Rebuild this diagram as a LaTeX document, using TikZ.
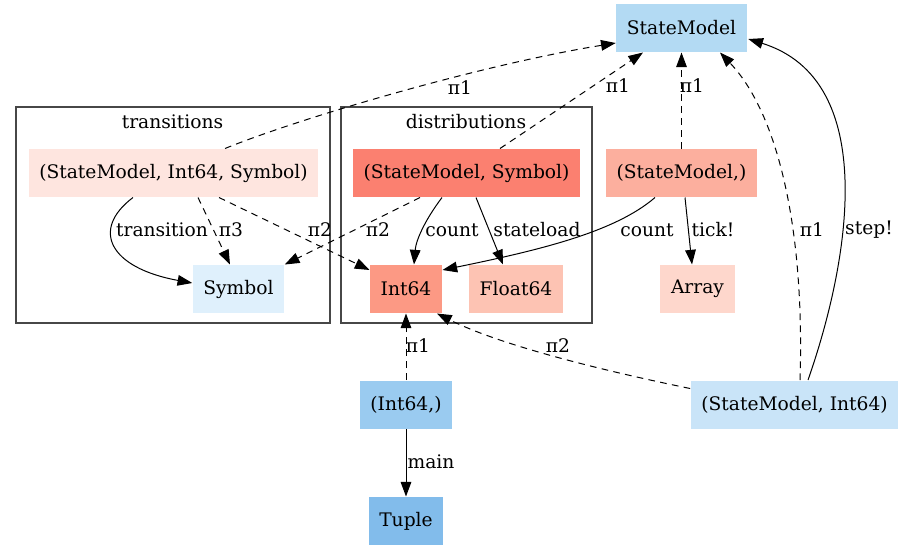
\documentclass[tikz,border=0pt]{standalone}
\usepackage{fontspec}
\setmainfont{DejaVu Serif}
\usetikzlibrary{arrows.meta, calc}
\definecolor{cSM}{HTML}{B3DAF3}
\definecolor{cTr}{HTML}{FEE5DF}
\definecolor{cSym}{HTML}{DFF0FC}
\definecolor{cDs}{HTML}{FB8070}
\definecolor{cInt}{HTML}{FC9984}
\definecolor{cFlt}{HTML}{FDC3B3}
\definecolor{cSMt}{HTML}{FCAF9E}
\definecolor{cArr}{HTML}{FED7CC}
\definecolor{cIntt}{HTML}{9ACBF0}
\definecolor{cTup}{HTML}{82BCEB}
\definecolor{cSMI}{HTML}{C9E4F8}
\tikzset{
    box/.style = {fill=#1, inner xsep=8pt, minimum height=36pt},
    lbl/.style = {inner sep=1pt},
    grp/.style = {draw=black!72, line width=0.9pt},
    dsh/.style = {dash pattern=on 5pt off 4pt},
    >={Triangle[length=11pt, width=8pt]}
}

\begin{document}
\begin{tikzpicture}[x=0.75pt, y=-0.75pt, line width=0.75pt, font=\fontsize{14}{17}\selectfont]
        \useasboundingbox (0,0) rectangle (905,551);
        \path[draw, grp] (16,107) rectangle (330,323);
        \path[draw, grp] (341,107) rectangle (592,323);
        \node (trlab) at (172.5,122) {transitions};
        \node (dslab) at (466,122) {distributions};
        \node[box=cSM] (sm) at (681.5,28) {StateModel};
        \node[box=cTr] (tr) at (173.5,173) {(StateModel, Int64, Symbol)};
        \node[box=cSym] (sym) at (238.5,289) {Symbol};
        \node[box=cDs] (ds) at (466.5,173) {(StateModel, Symbol)};
        \node[box=cInt] (int) at (406,289) {Int64};
        \node[box=cFlt] (flt) at (516,289) {Float64};
        \node[box=cSMt] (smt) at (681.5,173) {(StateModel,)};
        \node[box=cArr] (arr) at (697.5,289) {Array};
        \node[box=cIntt] (intt) at (406,404.5) {(Int64,)};
        \node[box=cTup] (tup) at (406,521) {Tuple};
        \node[box=cSMI] (smi) at (794.5,404.5) {(StateModel, Int64)};
        \path[draw, ->, dsh] ($(tr.north)+(51.5,0)$) .. controls (300,118) and (480,65) .. ($(sm.west)+(0,15)$) node[lbl] (l1) at (460,88) {π1};
        \path[draw, ->, dsh] ($(ds.north)+(33.5,0)$) -- ($(sm.south)+(-38.5,0)$) node[lbl] (l2) at (618,86) {π1};
        \path[draw, ->, dsh] (smt.north) -- (sm.south) node[lbl] (l3) at (692,86) {π1};
        \path[draw, ->, dsh] ($(smi.north)+(5.5,0)$) .. controls (805,220) and (775,110) .. ($(sm.south)+(38.5,0)$) node[lbl] (l4) at (812,230) {π1};
        \path[draw, ->] ($(smi.north)+(13.5,0)$) .. controls (850,260) and (880,80) .. ($(sm.east)+(1,11)$) node[lbl] (l5) at (869,230) {step!};
        \path[draw, ->] ($(tr.south)+(-40.5,0)$) .. controls (90,230) and (110,268) .. ($(sym.west)+(0,-6)$) node[lbl] (l6) at (162,230) {transition};
        \path[draw, ->, dsh] ($(tr.south)+(24.5,0)$) -- ($(sym.north)+(-8.5,0)$) node[lbl] (l7) at (231,230) {π3};
        \path[draw, ->, dsh] ($(tr.south)+(45.5,0)$) -- ($(int.west)+(0,-19)$) node[lbl] (l8) at (320,230) {π2};
        \path[draw, ->, dsh] ($(ds.south)+(-46.5,0)$) -- (sym.north east) node[lbl] (l9) at (378,230) {π2};
        \path[draw, ->] ($(ds.south)+(-24.5,0)$) .. controls (425,220) and (416,240) .. ($(int.north)+(8,0)$) node[lbl] (l10) at (452,230) {count};
        \path[draw, ->] ($(ds.south)+(9.5,0)$) -- ($(flt.north)+(-13,0)$) node[lbl] (l11) at (537,230) {stateload};
        \path[draw, ->] ($(smt.south)+(-26.5,0)$) .. controls (615,232) and (540,250) .. ($(int.east)+(0,-19)$) node[lbl] (l12) at (647,230) {count};
        \path[draw, ->] ($(smt.south)+(3.5,0)$) -- ($(arr.north)+(-5.5,0)$) node[lbl] (l13) at (713,230) {tick!};
        \path[draw, ->, dsh] (intt.north) -- (int.south) node[lbl] (l14) at (418,346) {π1};
        \path[draw, ->, dsh] ($(smi.west)+(0,-16)$) .. controls (600,370) and (500,345) .. ($(int.south)+(31,0)$) node[lbl] (l15) at (558,346) {π2};
        \path[draw, ->] (intt.south) -- (tup.north) node[lbl] (l16) at (431,462) {main};
    \end{tikzpicture}
\end{document}
